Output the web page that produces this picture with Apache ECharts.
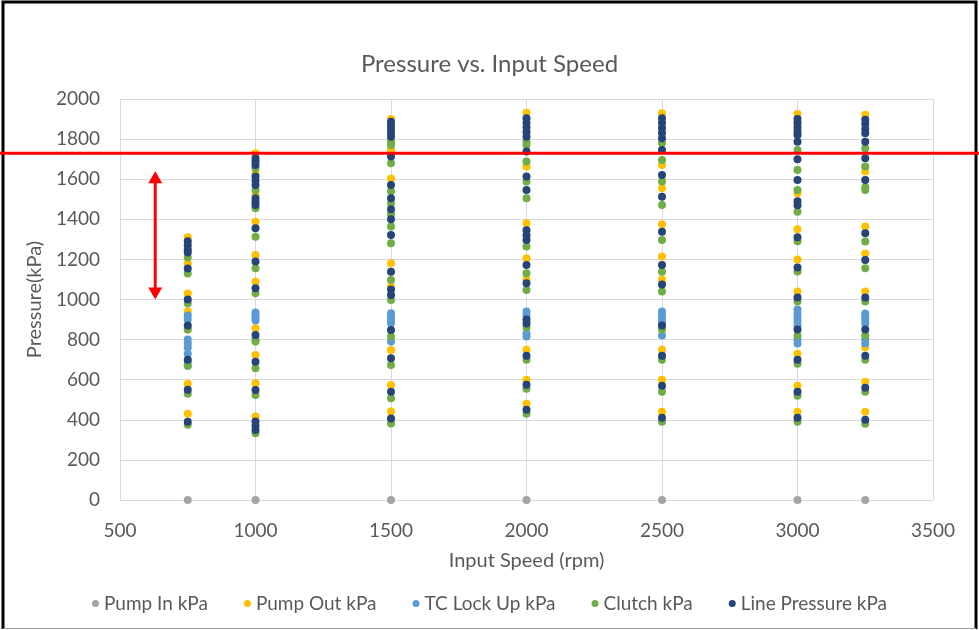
<!DOCTYPE html>
<html>
<head>
<meta charset="utf-8">
<title>Pressure vs. Input Speed</title>
<script src="https://cdn.jsdelivr.net/npm/echarts@6/dist/echarts.min.js"></script>
<style>
  html, body { margin: 0; padding: 0; background: #ffffff; }
  #chart { width: 979px; height: 630px; }
</style>
</head>
<body>
<div id="chart"></div>
<script>
// Input speeds (rpm) at which pressures were logged
const speeds = [750, 1000, 1500, 2000, 2500, 3000, 3250];

// Readings (kPa) per speed, one inner list per entry of `speeds`
const pumpIn = [[0], [0], [0], [0], [0], [0], [0]];

const pumpOut = [
  [1310, 1180, 1030, 940, 850, 580, 430],
  [1729, 1629, 1521, 1388, 1222, 1089, 856, 723, 582, 416],
  [1900, 1746, 1604, 1181, 1064, 748, 574, 441],
  [1932, 1663, 1380, 1206, 1100, 750, 600, 480],
  [1929, 1671, 1555, 1375, 1214, 1100, 750, 600, 440],
  [1925, 1829, 1530, 1350, 1200, 1040, 730, 570, 440],
  [1921, 1638, 1364, 1230, 1040, 760, 590, 440]
];

const tcLockUp = [
  [920, 900, 800, 780, 760, 730, 690, 670],
  [935, 920, 905, 895, 800],
  [931, 915, 898, 881, 790],
  [940, 920, 830, 815],
  [940, 920, 900, 880, 820],
  [950, 930, 910, 890, 870, 800, 780],
  [930, 915, 900, 880, 800, 780]
];

const clutch = [
  [1210, 1130, 980, 850, 670, 530, 375],
  [1654, 1546, 1455, 1313, 1156, 1031, 790, 657, 524, 333],
  [1788, 1771, 1679, 1540, 1480, 1425, 1364, 1280, 1097, 998, 815, 673, 507, 382],
  [1788, 1771, 1688, 1588, 1505, 1264, 1131, 1047, 860, 700, 555, 430],
  [1779, 1696, 1588, 1471, 1297, 1139, 1040, 850, 700, 540, 390],
  [1746, 1646, 1546, 1438, 1290, 1140, 990, 820, 680, 520, 390],
  [1754, 1663, 1560, 1546, 1289, 1156, 990, 820, 700, 540, 380]
];

const linePressure = [
  [1290, 1270, 1250, 1235, 1155, 1000, 870, 700, 550, 390],
  [1705, 1688, 1671, 1613, 1592, 1571, 1505, 1488, 1471, 1355, 1189, 1056, 823, 690, 549, 391, 370, 349],
  [1887, 1868, 1850, 1831, 1812, 1713, 1571, 1505, 1450, 1400, 1322, 1139, 1050, 1023, 848, 707, 540, 407],
  [1904, 1880, 1858, 1835, 1812, 1738, 1613, 1546, 1345, 1320, 1297, 1172, 1081, 900, 880, 720, 575, 450],
  [1904, 1880, 1855, 1830, 1804, 1746, 1621, 1513, 1338, 1172, 1075, 870, 720, 570, 410],
  [1900, 1880, 1860, 1840, 1820, 1787, 1700, 1596, 1490, 1470, 1310, 1160, 1010, 850, 700, 540, 410],
  [1896, 1875, 1850, 1829, 1787, 1704, 1596, 1330, 1197, 1010, 850, 720, 560, 400]
];

const seriesNames = ['Pump In kPa', 'Pump Out kPa', 'TC Lock Up kPa', 'Clutch kPa', 'Line Pressure kPa'];
const seriesColors = ['#a5a5a5', '#ffc000', '#5b9bd5', '#70ad47', '#264478'];
const seriesValues = [pumpIn, pumpOut, tcLockUp, clutch, linePressure];

// Reference pressure threshold and the highlighted operating band
const thresholdKpa = 1730;
const bandSpeed = 630;
const bandRange = [1000, 1640];

const xTicks = { min: 500, max: 3500, interval: 500 };
const yTicks = { min: 0, max: 2000, interval: 200 };

function toPairs(perSpeed) {
  const out = [];
  perSpeed.forEach((vals, i) => vals.forEach(v => out.push([speeds[i], v])));
  return out;
}

const FONT = 'Lato, "Open Sans", sans-serif';
const TEXT = '#595959';
const GRID = '#d9d9d9';

const chart = echarts.init(document.getElementById('chart'), null, { renderer: 'canvas', width: 979, height: 630 });

chart.setOption({
  animation: false,
  backgroundColor: '#ffffff',
  textStyle: { fontFamily: FONT },
  title: {
    text: 'Pressure vs. Input Speed',
    left: 'center',
    top: 47,
    textStyle: { fontFamily: FONT, fontSize: 24, fontWeight: 'normal', color: TEXT }
  },
  legend: {
    data: seriesNames,
    bottom: 12,
    left: 'center',
    icon: 'circle',
    itemWidth: 7,
    itemHeight: 7,
    itemGap: 36,
    textStyle: { fontFamily: FONT, fontSize: 19, color: TEXT }
  },
  grid: { left: 120, right: 46, top: 99, bottom: 130, containLabel: false },
  xAxis: {
    type: 'value',
    min: xTicks.min, max: xTicks.max, interval: xTicks.interval,
    name: 'Input Speed (rpm)',
    nameLocation: 'middle',
    nameGap: 51,
    nameTextStyle: { fontFamily: FONT, fontSize: 20, color: TEXT },
    axisLine: { show: false },
    axisTick: { show: false },
    axisLabel: { fontFamily: FONT, fontSize: 19, color: TEXT, margin: 21, formatter: v => String(v) },
    splitLine: { show: true, lineStyle: { color: GRID, width: 1 } }
  },
  yAxis: {
    type: 'value',
    min: yTicks.min, max: yTicks.max, interval: yTicks.interval,
    name: 'Pressure(kPa)',
    nameLocation: 'middle',
    nameGap: 71,
    nameTextStyle: { fontFamily: FONT, fontSize: 20, color: TEXT },
    axisLine: { show: false },
    axisTick: { show: false },
    axisLabel: { fontFamily: FONT, fontSize: 19, color: TEXT, margin: 20, formatter: v => String(v) },
    splitLine: { show: true, lineStyle: { color: GRID, width: 1 } }
  },
  series: seriesNames.map((name, i) => ({
    name: name,
    type: 'scatter',
    symbol: 'circle',
    symbolSize: 8,
    itemStyle: { color: seriesColors[i], opacity: 1 },
    data: toPairs(seriesValues[i]),
    z: 2 + i
  }))
});

// Annotation overlay: threshold line across the whole figure and a double arrow marking the band
const pThr = chart.convertToPixel({ gridIndex: 0 }, [bandSpeed, thresholdKpa]);
const pLo = chart.convertToPixel({ gridIndex: 0 }, [bandSpeed, bandRange[0]]);
const pHi = chart.convertToPixel({ gridIndex: 0 }, [bandSpeed, bandRange[1]]);
const ax = pLo[0];
const head = 12, half = 7;

chart.setOption({
  graphic: [
    // figure frame
    { type: 'polyline', silent: true, z: 100,
      shape: { points: [[3, 629], [3, 2], [976, 2], [976, 629]] },
      style: { stroke: '#000000', lineWidth: 3, fill: null } },
    { type: 'line', silent: true, z: 100,
      shape: { x1: 3, y1: 628.5, x2: 976, y2: 628.5 },
      style: { stroke: '#9a9a9a', lineWidth: 1 } },
    // threshold line
    { type: 'line', silent: true, z: 100,
      shape: { x1: 0, y1: pThr[1], x2: 979, y2: pThr[1] },
      style: { stroke: '#ff0000', lineWidth: 3 } },
    // double-headed arrow
    { type: 'line', silent: true, z: 100,
      shape: { x1: ax, y1: pHi[1] + head - 2, x2: ax, y2: pLo[1] - head + 2 },
      style: { stroke: '#ff0000', lineWidth: 3 } },
    { type: 'polygon', silent: true, z: 100,
      shape: { points: [[ax, pHi[1]], [ax - half, pHi[1] + head], [ax + half, pHi[1] + head]] },
      style: { fill: '#ff0000' } },
    { type: 'polygon', silent: true, z: 100,
      shape: { points: [[ax, pLo[1]], [ax - half, pLo[1] - head], [ax + half, pLo[1] - head]] },
      style: { fill: '#ff0000' } }
  ]
});
</script>
</body>
</html>
